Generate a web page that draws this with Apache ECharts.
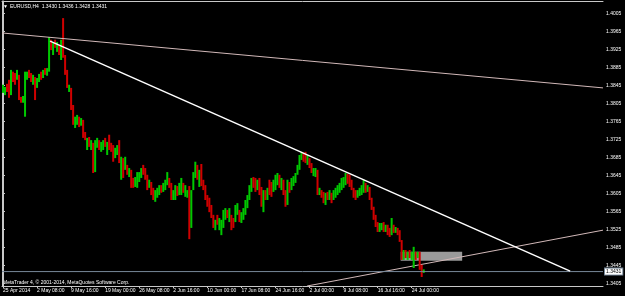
<!DOCTYPE html>
<html><head><meta charset="utf-8">
<script src="https://cdn.jsdelivr.net/npm/echarts@6/dist/echarts.min.js"></script>
<style>html,body{margin:0;padding:0;background:#000;}#c{width:625px;height:296px;}</style>
</head><body><div id="c"></div>
<script>
// ---- data (EURUSD H4) ----
const opens=[1.3828,1.3823,1.3848,1.3857,1.3823,1.3875,1.3872,1.3857,1.3868,1.3819,
1.3806,1.3775,1.3857,1.3879,1.3872,1.3846,1.3863,1.3839,1.3852,1.3875,
1.3861,1.3883,1.3866,1.3875,1.3946,1.3912,1.3946,1.3919,1.3935,1.3901,
1.3994,1.3912,1.3879,1.3830,1.3839,1.3801,1.3750,1.3757,1.3775,1.3755,
1.3768,1.3741,1.3701,1.3730,1.3701,1.3717,1.3652,1.3706,1.3723,1.3697,
1.3701,1.3728,1.3690,1.3735,1.3717,1.3712,1.3683,1.3690,1.3723,1.3635,
1.3683,1.3657,1.3668,1.3641,1.3657,1.3639,1.3619,1.3617,1.3630,1.3639,
1.3668,1.3661,1.3646,1.3617,1.3630,1.3617,1.3586,1.3595,1.3601,1.3623,
1.3608,1.3612,1.3623,1.3639,1.3628,1.3590,1.3590,1.3621,1.3601,1.3601,
1.3628,1.3597,1.3595,1.3621,1.3528,1.3612,1.3639,1.3668,1.3619,1.3670,
1.3635,1.3623,1.3601,1.3595,1.3579,1.3557,1.3523,1.3557,1.3523,1.3512,
1.3528,1.3546,1.3568,1.3541,1.3557,1.3550,1.3541,1.3557,1.3568,1.3539,
1.3546,1.3557,1.3572,1.3590,1.3608,1.3641,1.3639,1.3612,1.3639,1.3619,
1.3563,1.3612,1.3590,1.3635,1.3630,1.3608,1.3612,1.3623,1.3646,1.3612,
1.3635,1.3612,1.3579,1.3630,1.3612,1.3621,1.3628,1.3646,1.3657,1.3679,
1.3695,1.3697,1.3668,1.3683,1.3672,1.3643,1.3641,1.3657,1.3601,1.3612,
1.3608,1.3579,1.3608,1.3590,1.3606,1.3590,1.3595,1.3601,1.3606,1.3612,
1.3617,1.3623,1.3648,1.3646,1.3635,1.3617,1.3612,1.3595,1.3599,1.3601,
1.3606,1.3628,1.3608,1.3619,1.3595,1.3575,1.3557,1.3541,1.3519,1.3523,
1.3541,1.3519,1.3535,1.3528,1.3512,1.3535,1.3517,1.3528,1.3523,1.3501,
1.3457,1.3479,1.3457,1.3479,1.3457,1.3439,1.3475,1.3461,1.3475,1.3446,
1.3430];
const highs=[1.3846,1.3841,1.3848,1.3857,1.3879,1.3875,1.3872,1.3879,1.3868,1.3819,
1.3821,1.3875,1.3875,1.3879,1.3872,1.3868,1.3863,1.3861,1.3870,1.3875,
1.3879,1.3883,1.3883,1.3952,1.3946,1.3941,1.3946,1.3941,1.3935,1.3946,
1.3994,1.3912,1.3879,1.3846,1.3839,1.3801,1.3775,1.3779,1.3775,1.3772,
1.3768,1.3741,1.3728,1.3730,1.3723,1.3717,1.3723,1.3728,1.3723,1.3719,
1.3723,1.3728,1.3719,1.3735,1.3717,1.3712,1.3706,1.3712,1.3723,1.3686,
1.3683,1.3686,1.3668,1.3661,1.3657,1.3639,1.3641,1.3652,1.3652,1.3661,
1.3668,1.3661,1.3646,1.3635,1.3630,1.3617,1.3612,1.3617,1.3623,1.3623,
1.3628,1.3635,1.3652,1.3639,1.3628,1.3612,1.3623,1.3621,1.3628,1.3639,
1.3628,1.3623,1.3612,1.3621,1.3612,1.3652,1.3675,1.3668,1.3657,1.3670,
1.3635,1.3623,1.3601,1.3595,1.3579,1.3557,1.3546,1.3557,1.3550,1.3546,
1.3568,1.3572,1.3568,1.3572,1.3557,1.3550,1.3579,1.3583,1.3568,1.3563,
1.3572,1.3590,1.3601,1.3623,1.3639,1.3641,1.3639,1.3635,1.3639,1.3619,
1.3612,1.3612,1.3617,1.3635,1.3630,1.3635,1.3646,1.3650,1.3646,1.3639,
1.3635,1.3612,1.3635,1.3630,1.3639,1.3643,1.3650,1.3668,1.3690,1.3697,
1.3695,1.3697,1.3690,1.3683,1.3672,1.3661,1.3661,1.3657,1.3617,1.3612,
1.3608,1.3606,1.3608,1.3612,1.3606,1.3612,1.3617,1.3623,1.3628,1.3639,
1.3641,1.3650,1.3648,1.3646,1.3635,1.3617,1.3612,1.3612,1.3617,1.3623,
1.3635,1.3628,1.3623,1.3619,1.3595,1.3575,1.3557,1.3541,1.3539,1.3539,
1.3541,1.3535,1.3535,1.3528,1.3550,1.3535,1.3530,1.3528,1.3523,1.3501,
1.3479,1.3479,1.3475,1.3479,1.3475,1.3486,1.3475,1.3475,1.3475,1.3446,
1.3436];
const lows=[1.3828,1.3823,1.3830,1.3817,1.3823,1.3852,1.3846,1.3857,1.3812,1.3806,
1.3806,1.3775,1.3857,1.3861,1.3852,1.3846,1.3812,1.3839,1.3852,1.3857,
1.3861,1.3868,1.3866,1.3875,1.3923,1.3912,1.3928,1.3919,1.3912,1.3901,
1.3906,1.3868,1.3839,1.3830,1.3790,1.3757,1.3750,1.3757,1.3752,1.3755,
1.3728,1.3723,1.3701,1.3708,1.3701,1.3650,1.3652,1.3706,1.3701,1.3697,
1.3701,1.3708,1.3690,1.3701,1.3697,1.3675,1.3683,1.3690,1.3672,1.3635,
1.3639,1.3657,1.3646,1.3641,1.3617,1.3617,1.3619,1.3617,1.3630,1.3639,
1.3646,1.3635,1.3612,1.3617,1.3601,1.3590,1.3586,1.3595,1.3601,1.3606,
1.3608,1.3612,1.3623,1.3617,1.3590,1.3590,1.3590,1.3599,1.3601,1.3601,
1.3606,1.3597,1.3595,1.3503,1.3528,1.3612,1.3639,1.3635,1.3619,1.3621,
1.3612,1.3590,1.3575,1.3563,1.3550,1.3528,1.3523,1.3535,1.3523,1.3512,
1.3528,1.3546,1.3550,1.3541,1.3523,1.3528,1.3541,1.3557,1.3541,1.3539,
1.3546,1.3557,1.3572,1.3590,1.3608,1.3617,1.3608,1.3612,1.3601,1.3575,
1.3563,1.3590,1.3590,1.3601,1.3597,1.3608,1.3612,1.3623,1.3617,1.3612,
1.3601,1.3575,1.3579,1.3606,1.3612,1.3621,1.3628,1.3646,1.3657,1.3679,
1.3675,1.3672,1.3668,1.3661,1.3650,1.3643,1.3641,1.3601,1.3601,1.3595,
1.3583,1.3579,1.3590,1.3590,1.3583,1.3590,1.3595,1.3601,1.3606,1.3612,
1.3617,1.3623,1.3626,1.3619,1.3612,1.3595,1.3590,1.3595,1.3599,1.3601,
1.3606,1.3606,1.3608,1.3590,1.3568,1.3546,1.3530,1.3519,1.3519,1.3523,
1.3519,1.3519,1.3512,1.3508,1.3512,1.3517,1.3517,1.3512,1.3497,1.3457,
1.3457,1.3461,1.3457,1.3461,1.3457,1.3439,1.3457,1.3461,1.3435,1.3419,
1.3428];
const closes=[1.3846,1.3841,1.3830,1.3817,1.3879,1.3852,1.3846,1.3879,1.3812,1.3806,
1.3821,1.3875,1.3875,1.3861,1.3852,1.3868,1.3812,1.3861,1.3870,1.3857,
1.3879,1.3868,1.3883,1.3952,1.3923,1.3941,1.3928,1.3941,1.3912,1.3946,
1.3906,1.3868,1.3839,1.3846,1.3790,1.3757,1.3775,1.3779,1.3752,1.3772,
1.3728,1.3723,1.3728,1.3708,1.3723,1.3650,1.3723,1.3728,1.3701,1.3719,
1.3723,1.3708,1.3719,1.3701,1.3697,1.3675,1.3706,1.3712,1.3672,1.3686,
1.3639,1.3686,1.3646,1.3661,1.3617,1.3617,1.3641,1.3652,1.3652,1.3661,
1.3646,1.3635,1.3612,1.3635,1.3601,1.3590,1.3612,1.3617,1.3623,1.3606,
1.3628,1.3635,1.3652,1.3617,1.3590,1.3612,1.3623,1.3599,1.3628,1.3639,
1.3606,1.3623,1.3612,1.3503,1.3612,1.3652,1.3675,1.3635,1.3657,1.3621,
1.3612,1.3590,1.3575,1.3563,1.3550,1.3528,1.3546,1.3535,1.3550,1.3546,
1.3568,1.3572,1.3550,1.3572,1.3523,1.3528,1.3579,1.3583,1.3541,1.3563,
1.3572,1.3590,1.3601,1.3623,1.3639,1.3617,1.3608,1.3635,1.3601,1.3575,
1.3612,1.3590,1.3617,1.3601,1.3597,1.3635,1.3646,1.3650,1.3617,1.3639,
1.3601,1.3575,1.3635,1.3606,1.3639,1.3643,1.3650,1.3668,1.3690,1.3697,
1.3675,1.3672,1.3690,1.3661,1.3650,1.3661,1.3661,1.3601,1.3617,1.3595,
1.3583,1.3606,1.3590,1.3612,1.3583,1.3612,1.3617,1.3623,1.3628,1.3639,
1.3641,1.3650,1.3626,1.3619,1.3612,1.3595,1.3590,1.3612,1.3617,1.3623,
1.3635,1.3606,1.3623,1.3590,1.3568,1.3546,1.3530,1.3519,1.3539,1.3539,
1.3519,1.3535,1.3512,1.3508,1.3550,1.3517,1.3530,1.3512,1.3497,1.3457,
1.3479,1.3461,1.3475,1.3461,1.3475,1.3486,1.3457,1.3475,1.3435,1.3419,
1.3431];
const timeLabels=['25 Apr 2014','2 May 08:00','9 May 16:00','19 May 00:00','26 May 08:00','2 Jun 16:00','10 Jun 00:00','17 Jun 08:00','24 Jun 16:00','2 Jul 00:00','9 Jul 08:00','16 Jul 16:00','24 Jul 00:00'];
const priceTicks=[1.3405,1.3445,1.3485,1.3525,1.3565,1.3605,1.3645,1.3685,1.3725,1.3765,1.3805,1.3845,1.3885,1.3925,1.3965,1.4005];
const lastPrice=1.3431;
const headerText='EURUSD,H4  1.3430 1.3436 1.3428 1.3431';
const footerText='MetaTrader 4, \u00a9 2001-2014, MetaQuotes Software Corp.';
// drawn objects, in (bar slot, price)
const trendUpper=[[-0.5,1.3961],[299.5,1.3839]];
const trendWhite=[[23.5,1.3943],[283.1,1.3432]];
const trendLower=[[151.8,1.3399],[299.5,1.3523]];
const zoneBox=[[198.5,1.3475],[229.2,1.3455]];
const SLOTS=300, LABEL_STEP=17;

const slots=Array.from({length:SLOTS},(_,i)=>String(i));
const candles=opens.map((o,i)=>[i,o,closes[i],lows[i],highs[i]]);
const FONT='Liberation Sans', FS=5;
const UP='#00c800', DOWN='#d00000', FRAME='#c8c8c8';

const chart=echarts.init(document.getElementById('c'),null,{renderer:'canvas'});
chart.setOption({
  animation:false,
  backgroundColor:'#000000',
  grid:{left:2,right:22,top:1,bottom:10},
  xAxis:[{
    type:'category',data:slots,boundaryGap:true,
    axisLine:{show:true,lineStyle:{color:FRAME,width:1}},
    axisTick:{show:true,length:2,lineStyle:{color:FRAME},alignWithLabel:true,
      interval:(i)=>i%LABEL_STEP===0&&i/LABEL_STEP<timeLabels.length},
    axisLabel:{show:true,color:'#ffffff',fontSize:FS,fontFamily:FONT,align:'left',margin:2,
      interval:(i)=>i%LABEL_STEP===0&&i/LABEL_STEP<timeLabels.length,
      formatter:(v,i)=>timeLabels[i/LABEL_STEP]||''},
    splitLine:{show:false}
  },{
    type:'value',min:-0.5,max:SLOTS-0.5,position:'top',
    axisLine:{show:true,lineStyle:{color:FRAME,width:1}},
    axisTick:{show:false},axisLabel:{show:false},splitLine:{show:false}
  }],
  yAxis:[{
    type:'value',position:'right',min:1.3399,max:1.4032,
    axisLine:{show:true,lineStyle:{color:FRAME,width:1}},
    axisTick:{show:true,length:2,lineStyle:{color:FRAME},customValues:priceTicks},
    axisLabel:{show:true,color:'#ffffff',fontSize:FS,fontFamily:FONT,margin:3,
      customValues:priceTicks,formatter:(v)=>v.toFixed(4)},
    splitLine:{show:false}
  },{
    type:'value',position:'left',min:1.3399,max:1.4032,
    axisLine:{show:true,lineStyle:{color:FRAME,width:1}},
    axisTick:{show:false},axisLabel:{show:false},splitLine:{show:false}
  }],
  series:[
    {type:'line',xAxisIndex:1,data:trendLower,symbol:'none',z:1,
      lineStyle:{color:'#d2b9b9',width:1},
      markArea:{silent:true,itemStyle:{color:'#9a9a9a'},data:[[{coord:zoneBox[0]},{coord:zoneBox[1]}]]}},
    {type:'custom',xAxisIndex:0,data:candles,z:2,
      encode:{x:0,y:[1,2,3,4]},
      renderItem:(params,api)=>{
        const i=api.value(0);
        const top=api.coord([i,api.value(4)]);
        const bot=api.coord([i,api.value(3)]);
        const w=api.size([1,0])[0];
        const up=api.value(2)>=api.value(1);
        return {type:'rect',shape:{x:top[0]-w/2,y:top[1],width:w,height:Math.max(1,bot[1]-top[1])},
          style:{fill:up?UP:DOWN}};
      }},
    {type:'line',xAxisIndex:1,data:[[-0.5,lastPrice],[SLOTS-0.5,lastPrice]],symbol:'none',z:2,
      lineStyle:{color:'#778899',width:1},
      endLabel:{show:true,formatter:()=>lastPrice.toFixed(4),distance:2,
        color:'#000000',backgroundColor:'#ffffff',borderColor:'#778899',borderWidth:1,
        padding:[1,1,0,1],fontSize:FS,fontFamily:FONT}},
    {type:'line',xAxisIndex:1,data:trendUpper,symbol:'none',z:3,
      lineStyle:{color:'#d2b9b9',width:1}},
    {type:'line',xAxisIndex:1,data:trendWhite,symbol:'none',z:3,
      lineStyle:{color:'#ffffff',width:1.5}}
  ],
  graphic:[
    {type:'text',left:3,top:4,style:{text:'\u25bc',fill:'#ffffff',fontSize:FS,fontFamily:FONT}},
    {type:'text',left:10,top:4,style:{text:headerText,fill:'#ffffff',fontSize:FS,fontFamily:FONT}},
    {type:'text',left:3,top:280,style:{text:footerText,fill:'#ffffff',fontSize:FS,fontFamily:FONT}}
  ]
});
</script></body></html>
